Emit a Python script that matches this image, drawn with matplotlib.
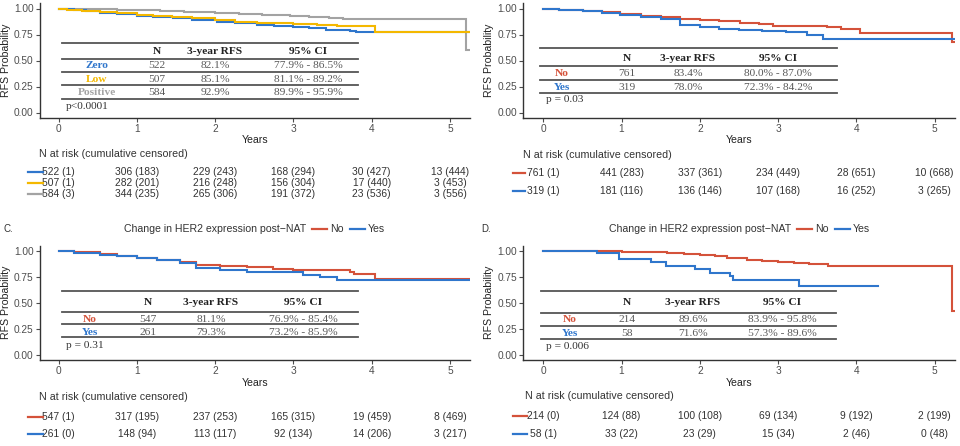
import matplotlib
matplotlib.use("Agg")
import matplotlib.pyplot as plt
from matplotlib.lines import Line2D
from matplotlib.transforms import blended_transform_factory as blend

plt.rcParams['font.family'] = ['Liberation Sans', 'DejaVu Sans']

W, H = 960, 446

# ---------------- data ----------------
years = [0, 1, 2, 3, 4, 5]

# Panel A: HER2 category
a_groups = ["Zero", "Low", "Positive"]
a_zero_t = [0, 0.08, 0.19, 0.35, 0.53, 0.75, 1.0, 1.2, 1.46, 1.7, 2.02, 2.25, 2.53, 2.75, 3.0, 3.2, 3.42, 3.6, 3.72, 3.8, 5.26]
a_zero_s = [1.0, 0.992, 0.984, 0.972, 0.96, 0.945, 0.93, 0.918, 0.904, 0.89, 0.871, 0.858, 0.842, 0.832, 0.821, 0.81, 0.797, 0.79, 0.785, 0.77, 0.77]
a_low_t = [0, 0.1, 0.3, 0.53, 0.75, 1.0, 1.2, 1.45, 1.7, 2.0, 2.25, 2.53, 2.75, 3.0, 3.3, 3.55, 4.04, 5.26]
a_low_s = [1.0, 0.99, 0.978, 0.968, 0.955, 0.942, 0.932, 0.92, 0.905, 0.887, 0.875, 0.865, 0.858, 0.851, 0.842, 0.83, 0.77, 0.77]
a_pos_t = [0, 0.53, 0.75, 1.0, 1.3, 1.6, 2.0, 2.3, 2.6, 2.95, 3.2, 3.45, 3.63, 5.21, 5.27]
a_pos_s = [1.0, 0.995, 0.99, 0.985, 0.977, 0.968, 0.96, 0.95, 0.94, 0.929, 0.92, 0.905, 0.897, 0.60, 0.60]
a_n = ["522", "507", "584"]
a_rfs = ["82.1%", "85.1%", "92.9%"]
a_ci = ["77.9% - 86.5%", "81.1% - 89.2%", "89.9% - 95.9%"]
a_p = "p<0.0001"
a_risk = [["522 (1)", "306 (183)", "229 (243)", "168 (294)", "30 (427)", "13 (444)"],
          ["507 (1)", "282 (201)", "216 (248)", "156 (304)", "17 (440)", "3 (453)"],
          ["584 (3)", "344 (235)", "265 (306)", "191 (372)", "23 (536)", "3 (556)"]]

# Panel B
b_groups = ["No", "Yes"]
b_no_t = [0, 0.2, 0.51, 0.75, 0.98, 1.25, 1.5, 1.75, 2.0, 2.25, 2.51, 2.75, 2.94, 3.3, 3.62, 3.8, 4.05, 5.22, 5.27]
b_no_s = [1.0, 0.99, 0.978, 0.962, 0.945, 0.93, 0.915, 0.9, 0.889, 0.876, 0.864, 0.85, 0.836, 0.832, 0.826, 0.8, 0.76, 0.68, 0.68]
b_yes_t = [0, 0.2, 0.51, 0.75, 0.98, 1.25, 1.5, 1.75, 2.0, 2.25, 2.5, 2.8, 3.1, 3.37, 3.58, 5.27]
b_yes_s = [1.0, 0.985, 0.972, 0.955, 0.935, 0.915, 0.9, 0.845, 0.82, 0.805, 0.793, 0.785, 0.775, 0.745, 0.705, 0.705]
b_n = ["761", "319"]
b_rfs = ["83.4%", "78.0%"]
b_ci = ["80.0% - 87.0%", "72.3% - 84.2%"]
b_p = "p = 0.03"
b_risk = [["761 (1)", "441 (283)", "337 (361)", "234 (449)", "28 (651)", "10 (668)"],
          ["319 (1)", "181 (116)", "136 (146)", "107 (168)", "16 (252)", "3 (265)"]]

# Panel C
c_no_t = [0, 0.2, 0.53, 0.75, 1.0, 1.25, 1.55, 1.76, 2.06, 2.4, 2.74, 3.0, 3.4, 3.72, 3.78, 4.04, 5.27]
c_no_s = [1.0, 0.985, 0.968, 0.95, 0.927, 0.91, 0.888, 0.862, 0.85, 0.84, 0.825, 0.811, 0.81, 0.8, 0.775, 0.725, 0.725]
c_yes_t = [0, 0.2, 0.53, 0.75, 1.0, 1.25, 1.55, 1.76, 2.06, 2.4, 2.74, 3.12, 3.34, 3.55, 5.27]
c_yes_s = [1.0, 0.98, 0.958, 0.945, 0.927, 0.908, 0.885, 0.835, 0.81, 0.8, 0.793, 0.768, 0.745, 0.715, 0.715]
c_n = ["547", "261"]
c_rfs = ["81.1%", "79.3%"]
c_ci = ["76.9% - 85.4%", "73.2% - 85.9%"]
c_p = "p = 0.31"
c_risk = [["547 (1)", "317 (195)", "237 (253)", "165 (315)", "19 (459)", "8 (469)"],
          ["261 (0)", "148 (94)", "113 (117)", "92 (134)", "14 (206)", "3 (217)"]]

# Panel D
d_no_t = [0, 0.73, 1.0, 1.3, 1.58, 1.8, 2.0, 2.2, 2.35, 2.6, 2.8, 3.0, 3.2, 3.4, 3.64, 5.22, 5.27]
d_no_s = [1.0, 0.995, 0.99, 0.985, 0.975, 0.965, 0.955, 0.945, 0.93, 0.915, 0.905, 0.896, 0.885, 0.875, 0.853, 0.42, 0.42]
d_yes_t = [0, 0.69, 0.97, 1.37, 1.57, 1.94, 2.13, 2.38, 2.42, 3.27, 4.28]
d_yes_s = [1.0, 0.975, 0.92, 0.89, 0.856, 0.825, 0.79, 0.76, 0.719, 0.665, 0.665]
d_n = ["214", "58"]
d_rfs = ["89.6%", "71.6%"]
d_ci = ["83.9% - 95.8%", "57.3% - 89.6%"]
d_p = "p = 0.006"
d_risk = [["214 (0)", "124 (88)", "100 (108)", "69 (134)", "9 (192)", "2 (199)"],
          ["58 (1)", "33 (22)", "23 (29)", "15 (34)", "2 (46)", "0 (48)"]]

legend_title = "Change in HER2 expression post\u2212NAT"

BLUE = "#2F76CC"
YELLOW = "#F4B800"
GRAY = "#A3A3A3"
RED = "#D4523A"
TXT = "#595959"

fig = plt.figure(figsize=(W / 100, H / 100), dpi=100)


def fx(px):
    return px / W


def fy(py):
    return 1 - py / H


def add_ax(left, top, right, bottom):
    return fig.add_axes([fx(left), fy(bottom), (right - left) / W, (bottom - top) / H])


def style(ax, xlim):
    ax.set_xlim(*xlim)
    ax.set_ylim(-0.05, 1.05)
    ax.set_xticks(years)
    ax.set_yticks([0, 0.25, 0.5, 0.75, 1.0])
    ax.set_yticklabels(["0.00", "0.25", "0.50", "0.75", "1.00"])
    for s in ["top", "right"]:
        ax.spines[s].set_visible(False)
    for s in ["left", "bottom"]:
        ax.spines[s].set_color("#333333")
        ax.spines[s].set_linewidth(1.0)
    ax.tick_params(axis="both", labelsize=7.3, colors="#4D4D4D", length=3, width=0.8, pad=1.5)
    ax.set_xlabel("Years", fontsize=7.6, color="#222222", labelpad=1)
    ax.set_ylabel("RFS Probability", fontsize=7.6, color="#222222")
    ax.yaxis.set_label_coords(-0.067, 0.5)
    ax.patch.set_alpha(0)


def curve(ax, t, s, c):
    ax.plot(t, s, drawstyle="steps-post", color=c, lw=1.5, solid_joinstyle="miter")


def stat_table(left, right, rules, header_y, rows_y, cols, labels, colors, ns, rfs, cis, p, p_xy):
    for ry in rules:
        fig.add_artist(Line2D([fx(left), fx(right)], [fy(ry), fy(ry)], color="#555555", lw=1.3))
    kw = dict(family=["Liberation Serif", "DejaVu Serif"], fontsize=8.2, ha="center", va="center")
    fig.text(fx(cols[1]), fy(header_y), "N", fontweight="bold", color="#222222", **kw)
    fig.text(fx(cols[2]), fy(header_y), "3-year RFS", fontweight="bold", color="#222222", **kw)
    fig.text(fx(cols[3]), fy(header_y), "95% CI", fontweight="bold", color="#222222", **kw)
    for i, yy in enumerate(rows_y):
        fig.text(fx(cols[0]), fy(yy), labels[i], fontweight="bold", color=colors[i], **kw)
        fig.text(fx(cols[1]), fy(yy), ns[i], color=TXT, **kw)
        fig.text(fx(cols[2]), fy(yy), rfs[i], color=TXT, **kw)
        fig.text(fx(cols[3]), fy(yy), cis[i], color=TXT, **kw)
    kw2 = dict(kw)
    kw2["ha"] = "left"
    fig.text(fx(p_xy[0]), fy(p_xy[1]), p, color="#333333", **kw2)


def risk_table(ax, label_xy, rows_y, key_x, colors, risk):
    fig.text(fx(label_xy[0]), fy(label_xy[1]), "N at risk (cumulative censored)",
             fontsize=7.7, color="#333333", ha="left", va="center")
    tr = blend(ax.transData, fig.transFigure)
    for i, yy in enumerate(rows_y):
        fig.add_artist(Line2D([fx(key_x[0]), fx(key_x[1])], [fy(yy), fy(yy)], color=colors[i], lw=1.6))
        for j, v in enumerate(risk[i]):
            ax.text(years[j], fy(yy), v, transform=tr, fontsize=7.4, color="#333333",
                    ha="center", va="center", clip_on=False)


# ---------------- Panel A ----------------
axA = add_ax(40, 3.3, 470, 117.7)
style(axA, (-0.239, 5.256))
curve(axA, a_pos_t, a_pos_s, GRAY)
curve(axA, a_zero_t, a_zero_s, BLUE)
curve(axA, a_low_t, a_low_s, YELLOW)
stat_table(62, 358, [42.7, 59.3, 72.3, 85, 98.7], 51.5, [66, 79.5, 92.5],
           [97, 157, 215, 308], a_groups, [BLUE, YELLOW, GRAY], a_n, a_rfs, a_ci, a_p, (66, 106.5))
risk_table(axA, (39, 154), [171.7, 183, 194.3], (28, 43), [BLUE, YELLOW, GRAY], a_risk)

# ---------------- Panel B ----------------
axB = add_ax(523.3, 3.3, 955, 117.7)
style(axB, (-0.255, 5.26))
curve(axB, b_no_t, b_no_s, RED)
curve(axB, b_yes_t, b_yes_s, BLUE)
stat_table(540, 837, [48.3, 66, 80, 92.7], 58.3, [73.3, 87],
           [561.7, 626.7, 688, 778], b_groups, [RED, BLUE], b_n, b_rfs, b_ci, b_p, (546, 100))
risk_table(axB, (523, 155), [173.3, 191], (513, 525), [RED, BLUE], b_risk)

# ---------------- Panel C ----------------
axC = add_ax(40, 245.5, 470, 360)
style(axC, (-0.239, 5.256))
curve(axC, c_no_t, c_no_s, RED)
curve(axC, c_yes_t, c_yes_s, BLUE)
stat_table(62, 358, [291, 311.7, 324.3, 337.3], 302.3, [319, 332.3],
           [90, 148, 211, 303], b_groups, [RED, BLUE], c_n, c_rfs, c_ci, c_p, (66, 345.7))
risk_table(axC, (39, 396.7), [416.7, 434], (28, 43), [RED, BLUE], c_risk)

# ---------------- Panel D ----------------
axD = add_ax(523.3, 245.5, 955, 360)
style(axD, (-0.255, 5.26))
curve(axD, d_no_t, d_no_s, RED)
curve(axD, d_yes_t, d_yes_s, BLUE)
stat_table(540.7, 836, [291, 312.7, 325.7, 339], 302.3, [320, 333.3],
           [570, 627, 693, 782], b_groups, [RED, BLUE], d_n, d_rfs, d_ci, d_p, (546, 346.7))
risk_table(axD, (525, 396), [416, 434], (513, 527), [RED, BLUE], d_risk)

# ---------------- panel labels & legends ----------------
fig.text(fx(4), fy(229), "C.", fontsize=7, color="#333333", ha="left", va="center")
fig.text(fx(481), fy(229), "D.", fontsize=7, color="#333333", ha="left", va="center")

for title_x, leg_x in [(124, 312), (609, 797)]:
    fig.text(fx(title_x), fy(229.5), legend_title, fontsize=7.6, color="#333333", ha="left", va="center")
    handles = [Line2D([], [], color=RED, lw=1.6), Line2D([], [], color=BLUE, lw=1.6)]
    fig.legend(handles, b_groups, loc="center left", bbox_to_anchor=(fx(leg_x), fy(229.5)),
               ncol=2, frameon=False, fontsize=7.6, handlelength=1.4, handletextpad=0.3,
               columnspacing=0.6, borderpad=0, borderaxespad=0, labelcolor="#333333")

fig.savefig("out.png", dpi=100)
